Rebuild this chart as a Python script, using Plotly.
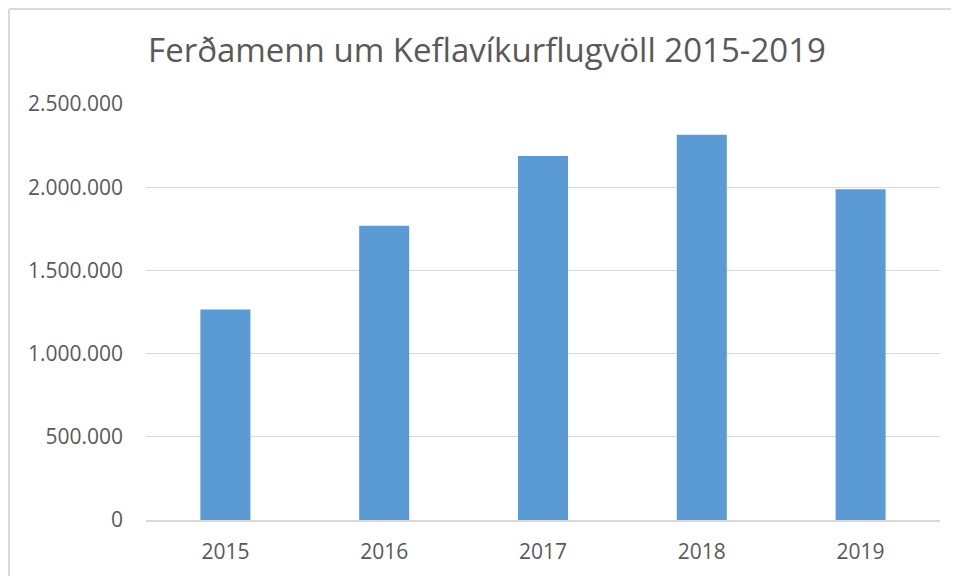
import plotly.graph_objects as go

years = ["2015", "2016", "2017", "2018", "2019"]
visitors = [1265000, 1769000, 2187000, 2315000, 1987000]
y_ticks = [0, 500000, 1000000, 1500000, 2000000, 2500000]
title_text = "Ferðamenn um Keflavíkurflugvöll 2015-2019"

# the page body adds an 8px offset; figure coordinates are viewport minus 8
OFF = 8
W, H = 959, 576 - OFF
L = 146 - OFF
T = 104 - OFF
R = W - (940 - OFF)
B = H - (520 - OFF)
pw, ph = W - L - R, H - T - B

def px_to_paper_x(px):
    return (px - OFF - L) / pw

def px_to_paper_y(py):
    return (H - B - (py - OFF)) / ph

border = dict(color="#d9d9d9", width=2)
fig = go.Figure(go.Bar(x=years, y=visitors, marker=dict(color="#5B9BD5", line=dict(width=0))))

fig.update_layout(
    width=W, height=H,
    margin=dict(l=L, r=R, t=T, b=B),
    paper_bgcolor="white", plot_bgcolor="white",
    separators=",.",
    bargap=0.685,
    showlegend=False,
    font=dict(family="Open Sans", color="#595959", size=21),
    title=dict(text=title_text, xref="container", x=(487 - OFF) / W, xanchor="center",
               y=1 - (50 - OFF) / H, yanchor="middle",
               font=dict(family="Open Sans", size=33, color="#595959")),
    shapes=[
        dict(type="line", xref="paper", yref="paper",
             x0=px_to_paper_x(9), x1=px_to_paper_x(9),
             y0=px_to_paper_y(600), y1=px_to_paper_y(9), line=border, layer="below"),
        dict(type="line", xref="paper", yref="paper",
             x0=px_to_paper_x(9), x1=px_to_paper_x(980),
             y0=px_to_paper_y(9), y1=px_to_paper_y(9), line=border, layer="below"),
    ],
)
fig.update_yaxes(range=[0, 2500000], tickvals=y_ticks, tickformat=",d",
                 gridcolor="#d9d9d9", gridwidth=1, showline=False, zeroline=False,
                 ticklabelstandoff=22, tickfont=dict(size=21, color="#595959"))
fig.update_xaxes(showline=True, linecolor="#d9d9d9", linewidth=1.5, ticks="",
                 ticklabelstandoff=12, tickfont=dict(size=21, color="#595959"))

fig.write_html("out.html")
